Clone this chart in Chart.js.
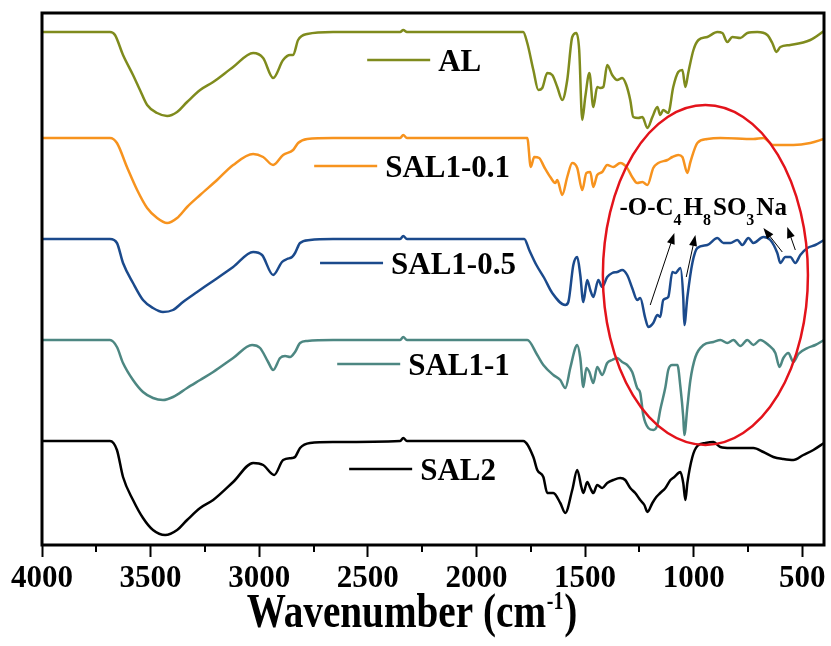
<!DOCTYPE html>
<html>
<head>
<meta charset="utf-8">
<script src="https://cdn.jsdelivr.net/npm/chart.js@4.4.1/dist/chart.umd.min.js"></script>
<style>
  html, body { margin: 0; padding: 0; background: #fff; }
  #wrap { width: 831px; height: 646px; }
</style>
</head>
<body>
<div id="wrap"><canvas id="ftir"></canvas></div>
<script>
// ── FTIR spectra, offset traces (arbitrary units) ──

const alWn = [4000, 3687, 3664, 3627, 3581, 3549, 3516, 3470, 3424, 3378,
  3332, 3272, 3212, 3120, 3028, 2982, 2936, 2890, 2858, 2844,
  2821, 2779, 2660, 2351, 2337, 2320, 1808, 1785, 1766, 1738,
  1715, 1697, 1674, 1651, 1628, 1605, 1582, 1559, 1540, 1527,
  1513, 1499, 1480, 1462, 1444, 1430, 1416, 1398, 1375, 1352,
  1329, 1310, 1292, 1278, 1255, 1236, 1213, 1190, 1167, 1154,
  1140, 1117, 1094, 1071, 1052, 1038, 1025, 1001, 978, 937,
  891, 868, 845, 822, 785, 753, 707, 661, 638, 619,
  601, 555, 463, 400];
const alT = [513, 513, 510, 490, 470, 455, 440, 432, 429, 433,
  443, 455, 463, 478, 492, 487, 467, 485, 490, 490,
  505, 511, 513, 513, 515, 513, 513, 513, 502, 475,
  455, 457, 472, 470, 458, 445, 465, 508, 512, 495,
  425, 448, 472, 438, 458, 457, 458, 480, 470, 465,
  467, 460, 445, 428, 427, 428, 417, 428, 438, 430,
  435, 432, 458, 473, 475, 458, 472, 495, 505, 508,
  513, 512, 503, 508, 507, 512, 513, 510, 502, 493,
  498, 500, 505, 514];

const sal01Wn = [4000, 3687, 3655, 3609, 3562, 3516, 3470, 3424, 3378, 3332,
  3272, 3194, 3120, 3028, 2982, 2936, 2890, 2844, 2821, 2779,
  2660, 2351, 2337, 2320, 1808, 1766, 1750, 1734, 1711, 1688,
  1660, 1637, 1628, 1605, 1582, 1559, 1536, 1513, 1494, 1476,
  1462, 1444, 1421, 1398, 1370, 1338, 1306, 1283, 1260, 1236,
  1213, 1186, 1163, 1121, 1098, 1071, 1052, 1029, 1015, 983,
  937, 877, 725, 679, 633, 541, 463, 400];
const sal01T = [407, 407, 402, 378, 355, 337, 327, 322, 327, 338,
  350, 365, 380, 391, 388, 380, 390, 395, 402, 406,
  407, 407, 410, 407, 407, 407, 378, 388, 387, 378,
  368, 362, 365, 350, 368, 382, 377, 355, 372, 373,
  358, 370, 373, 380, 378, 382, 377, 368, 362, 363,
  360, 377, 382, 385, 388, 390, 388, 372, 383, 402,
  406, 407, 406, 407, 400, 400, 402, 406];

const sal05Wn = [4000, 3687, 3655, 3627, 3581, 3535, 3489, 3443, 3397, 3351,
  3286, 3226, 3120, 3028, 2987, 2936, 2895, 2872, 2849, 2835,
  2812, 2766, 2660, 2351, 2337, 2320, 1780, 1757, 1724, 1688,
  1651, 1591, 1577, 1554, 1536, 1522, 1508, 1490, 1476, 1462,
  1439, 1421, 1398, 1375, 1352, 1329, 1306, 1283, 1260, 1246,
  1223, 1209, 1186, 1167, 1154, 1140, 1117, 1098, 1084, 1061,
  1048, 1043, 1029, 1006, 983, 937, 891, 863, 831, 799,
  776, 748, 725, 679, 647, 615, 601, 578, 555, 532,
  509, 476, 440, 400];
const sal05T = [306, 306, 302, 282, 262, 245, 237, 233, 235, 243,
  253, 262, 278, 293, 290, 270, 283, 286, 288, 292,
  302, 305, 306, 306, 309, 306, 306, 295, 280, 267,
  252, 240, 243, 280, 288, 270, 243, 265, 255, 248,
  265, 258, 268, 272, 273, 275, 270, 257, 245, 247,
  227, 218, 222, 230, 228, 245, 248, 273, 272, 277,
  248, 220, 248, 282, 297, 300, 307, 302, 302, 305,
  300, 307, 302, 308, 305, 292, 282, 288, 288, 282,
  290, 297, 300, 305];

const sal1Wn = [4000, 3687, 3655, 3627, 3581, 3535, 3489, 3443, 3397, 3332,
  3272, 3212, 3120, 3033, 2996, 2959, 2936, 2904, 2881, 2858,
  2835, 2812, 2779, 2660, 2351, 2337, 2320, 1766, 1720, 1692,
  1646, 1614, 1591, 1568, 1545, 1536, 1522, 1508, 1494, 1480,
  1462, 1444, 1421, 1398, 1375, 1352, 1329, 1306, 1283, 1260,
  1246, 1232, 1209, 1186, 1167, 1154, 1130, 1117, 1098, 1075,
  1061, 1048, 1043, 1029, 1015, 992, 955, 909, 877, 845,
  817, 785, 753, 725, 694, 656, 624, 605, 587, 564,
  541, 518, 476, 440, 400];
const sal1T = [205, 205, 198, 182, 165, 153, 147, 145, 148, 157,
  165, 173, 187, 200, 197, 183, 175, 187, 189, 188,
  193, 202, 204, 205, 205, 208, 205, 205, 190, 180,
  170, 165, 157, 177, 197, 200, 187, 158, 177, 173,
  162, 178, 170, 182, 185, 187, 183, 180, 173, 157,
  152, 130, 117, 115, 120, 135, 158, 175, 180, 180,
  158, 128, 110, 138, 165, 188, 200, 203, 205, 202,
  205, 199, 205, 200, 205, 200, 192, 178, 187, 192,
  183, 191, 197, 200, 205];

const sal2Wn = [4000, 3687, 3655, 3627, 3581, 3535, 3489, 3433, 3378, 3332,
  3272, 3212, 3120, 3028, 2982, 2931, 2890, 2849, 2835, 2812,
  2766, 2660, 2351, 2337, 2320, 1785, 1738, 1720, 1692, 1674,
  1646, 1614, 1591, 1559, 1536, 1517, 1508, 1490, 1476, 1462,
  1444, 1421, 1398, 1370, 1338, 1315, 1292, 1269, 1246, 1227,
  1213, 1190, 1172, 1154, 1130, 1107, 1089, 1061, 1048, 1038,
  1029, 1006, 983, 946, 909, 877, 831, 785, 725, 679,
  633, 587, 541, 495, 449, 400];
const sal2T = [104, 104, 95, 68, 45, 27, 15, 10, 15, 25,
  37, 45, 63, 82, 80, 70, 85, 87, 88, 97,
  102, 103, 104, 107, 104, 104, 88, 75, 68, 52,
  52, 42, 32, 55, 75, 58, 52, 63, 57, 52,
  60, 57, 62, 65, 67, 65, 57, 52, 45, 40,
  33, 42, 48, 52, 57, 65, 68, 73, 62, 45,
  62, 88, 99, 102, 103, 98, 97, 97, 97, 93,
  88, 86, 85, 90, 95, 102];

const seriesNames = ["AL", "SAL1-0.1", "SAL1-0.5", "SAL1-1", "SAL2"];
const majorTicks = [4000, 3500, 3000, 2500, 2000, 1500, 1000, 500];
const minorTicks = [3750, 3250, 2750, 2250, 1750, 1250, 750];

// legend anchors (start of the legend line, in data units)
const legendWn = [2503, 2747, 2720, 2641, 2586];
const legendT = [485, 379, 282, 181, 76];

// sulfonate annotation
const groupText = [["-O-C", false], ["4", true], ["H", false], ["8", true], ["SO", false], ["3", true], ["Na", false]];
const groupAt = { wn: 1342, t: 330 };
const ringAt = { wn: 946, t: 270, rWn: 472, rT: 170 };
// arrows: [tailWn, tailT, tipWn, tipT]
const arrows = [
  [1200, 240, 1089, 312],
  [1034, 268, 992, 310],
  [592, 293, 679, 317],
  [532, 295, 569, 318],
];

const colors = ["#7f8b1d", "#f7931e", "#1b4a8c", "#4d8782", "#000000"];
const SERIF = '"Liberation Serif", "Times New Roman", serif';

const pts = (xs, ys) => xs.map((x, i) => ({ x, y: ys[i] }));
const spectra = [
  pts(alWn, alT),
  pts(sal01Wn, sal01T),
  pts(sal05Wn, sal05T),
  pts(sal1Wn, sal1T),
  pts(sal2Wn, sal2T),
];

function drawArrow(ctx, x1, y1, x2, y2) {
  const a = Math.atan2(y2 - y1, x2 - x1);
  const hl = 11, hw = 4;
  ctx.beginPath();
  ctx.moveTo(x1, y1);
  ctx.lineTo(x2 - Math.cos(a) * hl * 0.8, y2 - Math.sin(a) * hl * 0.8);
  ctx.stroke();
  ctx.beginPath();
  ctx.moveTo(x2, y2);
  ctx.lineTo(x2 - Math.cos(a) * hl - Math.sin(a) * hw, y2 - Math.sin(a) * hl + Math.cos(a) * hw);
  ctx.lineTo(x2 - Math.cos(a) * hl + Math.sin(a) * hw, y2 - Math.sin(a) * hl - Math.cos(a) * hw);
  ctx.closePath();
  ctx.fill();
}

// ── overlays: frame, minor ticks, legend, ellipse, arrows, axis title ──
const overlay = {
  id: "overlay",
  afterDatasetsDraw(chart) {
    const { ctx, chartArea: ca, scales } = chart;
    const xs = scales.x, ys = scales.y;
    ctx.save();

    // plot frame
    ctx.strokeStyle = "#000";
    ctx.lineWidth = 3;
    ctx.strokeRect(ca.left, ca.top, ca.right - ca.left, ca.bottom - ca.top);

    // minor ticks
    ctx.lineWidth = 2;
    minorTicks.forEach((v) => {
      const px = Math.round(xs.getPixelForValue(v));
      ctx.beginPath();
      ctx.moveTo(px, ca.bottom);
      ctx.lineTo(px, ca.bottom + 7);
      ctx.stroke();
    });

    // legend entries
    ctx.font = "bold 31px " + SERIF;
    ctx.textBaseline = "alphabetic";
    ctx.textAlign = "left";
    seriesNames.forEach((name, i) => {
      const px = xs.getPixelForValue(legendWn[i]);
      const py = ys.getPixelForValue(legendT[i]);
      ctx.strokeStyle = colors[i];
      ctx.lineWidth = 2.5;
      ctx.beginPath();
      ctx.moveTo(px, py);
      ctx.lineTo(px + 63, py);
      ctx.stroke();
      ctx.fillStyle = "#000";
      ctx.fillText(name, px + 71, py + 11);
    });

    // red ellipse
    const cx = xs.getPixelForValue(ringAt.wn);
    const cy = ys.getPixelForValue(ringAt.t);
    const rx = Math.abs(xs.getPixelForValue(ringAt.wn - ringAt.rWn) - cx);
    const ry = Math.abs(ys.getPixelForValue(ringAt.t + ringAt.rT) - cy);
    ctx.strokeStyle = "#e3131b";
    ctx.lineWidth = 2.5;
    ctx.beginPath();
    ctx.ellipse(cx, cy, rx, ry, 0, 0, Math.PI * 2);
    ctx.stroke();

    // group label with subscripts
    let tx = xs.getPixelForValue(groupAt.wn);
    const ty = ys.getPixelForValue(groupAt.t);
    ctx.fillStyle = "#000";
    groupText.forEach(([t, sub]) => {
      ctx.font = sub ? "bold 16px " + SERIF : "bold 25px " + SERIF;
      ctx.fillText(t, tx, sub ? ty + 10 : ty);
      tx += ctx.measureText(t).width + (sub ? 2 : 0);
    });

    // arrows
    ctx.strokeStyle = "#000";
    ctx.fillStyle = "#000";
    ctx.lineWidth = 1;
    arrows.forEach(([w1, t1, w2, t2]) => {
      drawArrow(ctx, xs.getPixelForValue(w1), ys.getPixelForValue(t1),
        xs.getPixelForValue(w2), ys.getPixelForValue(t2));
    });

    // x axis title: Wavenumber (cm-1)
    const sx = 0.8;
    const mainFont = "bold 49px " + SERIF, supFont = "bold 25px " + SERIF;
    ctx.font = mainFont;
    const w1 = ctx.measureText("Wavenumber (cm").width;
    const w3 = ctx.measureText(")").width;
    ctx.font = supFont;
    const w2 = ctx.measureText("-1").width;
    const total = (w1 + w2 + w3 + 2) * sx;
    const x0 = (ca.left + ca.right) / 2 - 21 - total / 2;
    ctx.translate(x0, 627);
    ctx.scale(sx, 1);
    ctx.font = mainFont;
    ctx.fillText("Wavenumber (cm", 0, 0);
    ctx.font = supFont;
    ctx.fillText("-1", w1 + 1, -18);
    ctx.font = mainFont;
    ctx.fillText(")", w1 + w2 + 2, 0);

    ctx.restore();
  },
};

new Chart(document.getElementById("ftir"), {
  type: "line",
  data: {
    datasets: spectra.map((d, i) => ({
      label: seriesNames[i],
      data: d,
      borderColor: colors[i],
      backgroundColor: colors[i],
      borderWidth: 2.5,
      pointRadius: 0,
      cubicInterpolationMode: "monotone",
      fill: false,
    })),
  },
  options: {
    responsive: true,
    maintainAspectRatio: false,
    animation: false,
    devicePixelRatio: 1,
    layout: { padding: { left: 42, right: 7, top: 13, bottom: 0 } },
    plugins: {
      legend: { display: false },
      tooltip: { enabled: false },
    },
    scales: {
      x: {
        type: "linear",
        reverse: true,
        min: 400,
        max: 4000,
        afterBuildTicks: (s) => {
          s.ticks = majorTicks.map((v) => ({ value: v }));
        },
        afterFit: (s) => {
          s.height = 101;
        },
        ticks: {
          autoSkip: false,
          maxRotation: 0,
          padding: 3,
          color: "#000",
          font: { family: SERIF, size: 31, weight: "bold" },
          callback: (v) => String(v),
        },
        grid: {
          display: true,
          drawOnChartArea: false,
          drawTicks: true,
          tickLength: 12,
          tickWidth: 2,
          tickColor: "#000",
        },
        border: { display: false },
      },
      y: {
        display: false,
        min: 0,
        max: 532,
      },
    },
  },
  plugins: [overlay],
});
</script>
</body>
</html>
